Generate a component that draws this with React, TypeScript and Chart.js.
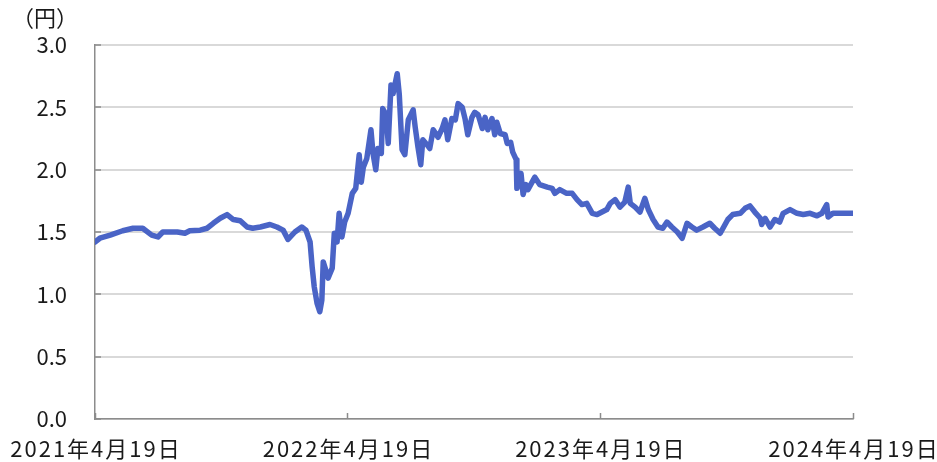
import React, { useEffect, useRef } from "react";
import { Chart, registerables } from "chart.js";

Chart.register(...registerables);

// days since 2021-04-19
const days = [0,7,22,40,55,69,82,91,98,119,130,137,152,162,171,181,191,200,210,220,228,239,253,263,272,279,289,299,305,311,314,317,321,325,328,330,335,337,343,346,350,353,357,361,366,372,377,382,385,388,393,399,402,406,409,414,416,421,424,428,431,437,440,444,448,453,460,463,467,471,474,480,484,489,496,502,506,510,516,521,525,531,535,539,545,549,554,560,564,568,574,578,581,586,593,596,601,604,609,610,615,616,619,623,626,636,643,654,661,665,672,682,690,697,704,711,719,726,733,740,745,752,759,766,771,774,781,788,795,800,807,814,821,827,834,842,849,856,863,870,879,889,896,904,908,915,922,933,940,947,954,962,964,969,976,983,990,995,1005,1015,1024,1034,1044,1051,1058,1060,1067,1077,1087,1096];

const values = [1.42,1.45,1.475,1.51,1.53,1.53,1.475,1.46,1.50,1.50,1.49,1.51,1.515,1.53,1.57,1.61,1.64,1.60,1.59,1.54,1.53,1.54,1.56,1.54,1.515,1.44,1.50,1.54,1.515,1.42,1.22,1.06,0.93,0.86,0.955,1.26,1.17,1.13,1.21,1.49,1.42,1.65,1.46,1.58,1.65,1.81,1.85,2.12,1.90,2.02,2.09,2.32,2.13,2.00,2.17,2.13,2.49,2.44,2.21,2.68,2.61,2.77,2.60,2.16,2.12,2.40,2.48,2.34,2.18,2.04,2.24,2.20,2.17,2.32,2.26,2.33,2.40,2.24,2.41,2.40,2.53,2.50,2.41,2.28,2.42,2.46,2.44,2.33,2.42,2.32,2.41,2.28,2.38,2.29,2.28,2.21,2.22,2.14,2.08,1.85,1.94,1.97,1.80,1.88,1.84,1.94,1.88,1.86,1.85,1.81,1.84,1.81,1.81,1.76,1.72,1.73,1.65,1.64,1.66,1.68,1.73,1.76,1.70,1.74,1.86,1.73,1.70,1.66,1.77,1.68,1.60,1.54,1.53,1.58,1.54,1.50,1.45,1.57,1.54,1.515,1.54,1.57,1.53,1.49,1.53,1.60,1.64,1.65,1.69,1.71,1.66,1.61,1.56,1.61,1.54,1.60,1.58,1.65,1.68,1.65,1.64,1.65,1.63,1.65,1.72,1.62,1.65,1.65,1.65,1.65];

const tickDays = [0, 365, 730, 1096];
const tickLabels = ["2021年4月19日", "2022年4月19日", "2023年4月19日", "2024年4月19日"];
const unitLabel = "（円）";

const FONT = "'Noto Sans CJK JP', 'Noto Sans', sans-serif";
const FONT_SIZE = 22;
const TEXT_COLOR = "#1a1a1a";
const AXIS_COLOR = "#8c8c8c";

const innerTicks = {
  id: "innerTicks",
  beforeDatasetsDraw(chart: any) {
    const { ctx, scales } = chart;
    const xs = scales.x;
    const ys = scales.y;
    ctx.save();
    ctx.strokeStyle = AXIS_COLOR;
    ctx.lineWidth = 1.5;
    ctx.beginPath();
    xs.ticks.forEach((t: any) => {
      const px = Math.round(xs.getPixelForValue(t.value)) + 0.5;
      ctx.moveTo(px, ys.bottom);
      ctx.lineTo(px, ys.bottom - 6);
    });
    ys.ticks.forEach((t: any) => {
      const py = Math.round(ys.getPixelForValue(t.value));
      ctx.moveTo(xs.left, py);
      ctx.lineTo(xs.left + 6, py);
    });
    ctx.stroke();
    ctx.restore();
  },
  afterDraw(chart: any) {
    const { ctx, chartArea, scales } = chart;
    const xs = scales.x;
    ctx.save();
    ctx.fillStyle = TEXT_COLOR;
    ctx.font = `${FONT_SIZE}px ${FONT}`;
    ctx.textAlign = "center";
    ctx.textBaseline = "middle";
    ctx.fillText(unitLabel, chartArea.left - 50, chartArea.top - 27);
    (ctx as any).letterSpacing = "2px";
    tickDays.forEach((d, i) => {
      ctx.fillText(tickLabels[i], xs.getPixelForValue(d) + 1, chartArea.bottom + 30);
    });
    ctx.restore();
  },
};

export default function App() {
  const ref = useRef<HTMLCanvasElement>(null);
  useEffect(() => {
    if (!ref.current) return;
    const chart = new Chart(ref.current, {
      type: "line",
      data: {
        datasets: [
          {
            data: days.map((d, i) => ({ x: d, y: values[i] })),
            borderColor: "#4A64C6",
            borderWidth: 5.5,
            pointRadius: 0,
            tension: 0,
            borderJoinStyle: "round",
            borderCapStyle: "round",
            fill: false,
          },
        ],
      },
      options: {
        animation: false,
        responsive: true,
        maintainAspectRatio: false,
        layout: { padding: { top: 45, right: 84, left: 0, bottom: 0 } },
        plugins: { legend: { display: false }, tooltip: { enabled: false } },
        scales: {
          x: {
            type: "linear",
            min: 0,
            max: 1096,
            afterBuildTicks: (scale: any) => {
              scale.ticks = tickDays.map((v) => ({ value: v }));
            },
            afterFit: (scale: any) => {
              scale.height = 43;
            },
            grid: { drawOnChartArea: false, drawTicks: false },
            border: { display: true, color: AXIS_COLOR, width: 1.5 },
            ticks: { display: false, autoSkip: false },
          },
          y: {
            min: 0,
            max: 3,
            afterFit: (scale: any) => {
              scale.width = 95;
            },
            grid: { color: "#d9d9d9", lineWidth: 2, drawTicks: false },
            border: { display: true, color: AXIS_COLOR, width: 1.5 },
            ticks: {
              stepSize: 0.5,
              padding: 28,
              color: TEXT_COLOR,
              font: { family: FONT, size: FONT_SIZE },
              callback: (v: any) => Number(v).toFixed(1),
            },
          },
        },
      },
      plugins: [innerTicks],
    } as any);
    return () => chart.destroy();
  }, []);
  return (
    <div style={{ position: "fixed", left: 0, top: 0, width: 937, height: 462, background: "#fff" }}>
      <canvas ref={ref} />
    </div>
  );
}
